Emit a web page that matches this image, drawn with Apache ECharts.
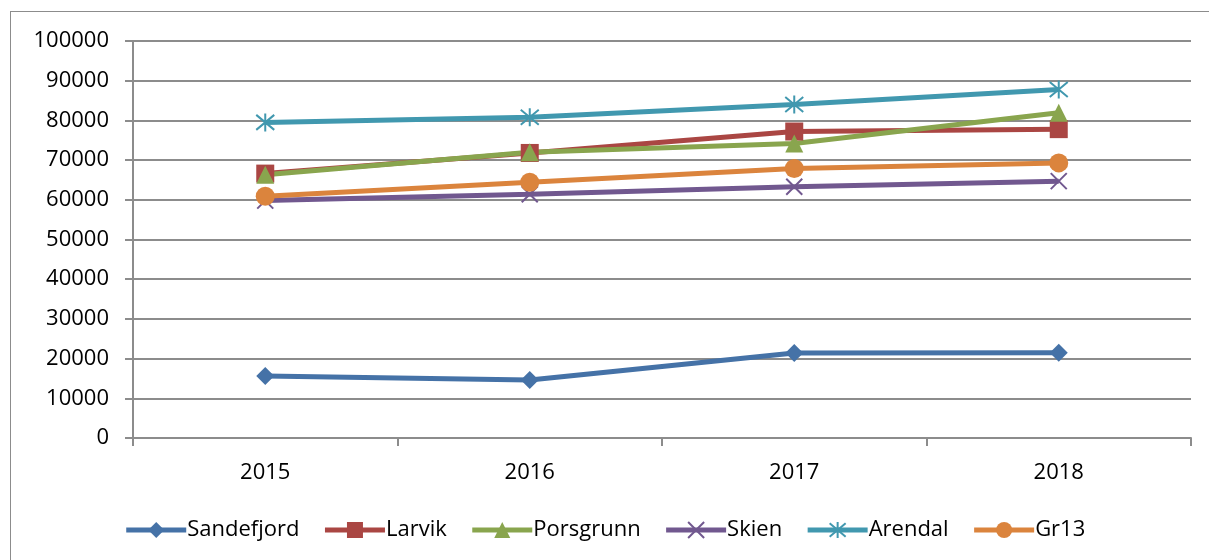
<!DOCTYPE html>
<html>
<head>
<meta charset="utf-8">
<script src="https://cdn.jsdelivr.net/npm/echarts@6/dist/echarts.min.js"></script>
<style>
  html, body { margin: 0; padding: 0; background: #fff; }
  #frame {
    position: absolute; left: 10px; top: 11px; width: 1250px; height: 600px;
    border-top: 1px solid #8c8c8c; border-left: 1px solid #8c8c8c;
  }
  #main { position: absolute; left: 0; top: 0; width: 1209px; height: 560px; }
</style>
</head>
<body>
<div id="frame"></div>
<div id="main"></div>
<script>
// data
const years = ['2015', '2016', '2017', '2018'];
const sandefjord = [15600, 14600, 21400, 21500];
const larvik = [66600, 71800, 77200, 77800];
const porsgrunn = [66300, 72000, 74200, 81900];
const skien = [59800, 61400, 63300, 64700];
const arendal = [79500, 80800, 84000, 87800];
const gr13 = [60900, 64400, 67900, 69300];

const FONT = '"Open Sans", sans-serif';
const xMark = 'path://M0,0L10,10M10,0L0,10';
const starMark = 'path://M0,0L10,10M10,0L0,10M5,-1L5,11';

function line(name, data, color, symbol, size, stroked) {
  return {
    name: name,
    type: 'line',
    data: data,
    symbol: symbol,
    symbolSize: size,
    showSymbol: true,
    lineStyle: { color: color, width: 5 },
    itemStyle: stroked
      ? { color: 'rgba(0,0,0,0)', borderColor: color, borderWidth: 2 }
      : { color: color, borderWidth: 0 },
    emphasis: { disabled: true },
    animation: false
  };
}

const chart = echarts.init(document.getElementById('main'));
chart.setOption({
  animation: false,
  grid: { left: 133, right: 18, top: 41, bottom: 122, containLabel: false },
  textStyle: { fontFamily: FONT },
  legend: {
    bottom: 14,
    left: 'center',
    itemWidth: 60,
    itemHeight: 20,
    itemGap: 23,
    lineStyle: { width: 5 },
    textStyle: { fontFamily: FONT, fontSize: 22, color: '#000', padding: [0, 0, 0, -4] },
    data: ['Sandefjord', 'Larvik', 'Porsgrunn', 'Skien', 'Arendal', 'Gr13']
  },
  xAxis: {
    type: 'category',
    data: years,
    boundaryGap: true,
    axisLine: { lineStyle: { color: '#8c8c8c', width: 2 } },
    axisTick: { show: true, alignWithLabel: false, length: 8, lineStyle: { color: '#8c8c8c', width: 2 } },
    axisLabel: { color: '#000', fontSize: 22, fontFamily: FONT, margin: 24 },
    splitLine: { show: false }
  },
  yAxis: {
    type: 'value',
    min: 0,
    max: 100000,
    interval: 10000,
    axisLine: { show: true, lineStyle: { color: '#8c8c8c', width: 2 } },
    axisTick: { show: true, length: 8, lineStyle: { color: '#8c8c8c', width: 2 } },
    axisLabel: { color: '#000', fontSize: 22, fontFamily: FONT, margin: 24, formatter: v => String(v) },
    splitLine: { show: true, lineStyle: { color: '#8c8c8c', width: 2 } }
  },
  series: [
    line('Sandefjord', sandefjord, '#4572A7', 'diamond', 18, false),
    line('Larvik', larvik, '#AA4643', 'rect', 18, false),
    line('Porsgrunn', porsgrunn, '#89A54E', 'triangle', 18, false),
    line('Skien', skien, '#71588F', xMark, 16, true),
    line('Arendal', arendal, '#4198AF', starMark, 18, true),
    line('Gr13', gr13, '#DB843D', 'circle', 19, false)
  ]
});
</script>
</body>
</html>
